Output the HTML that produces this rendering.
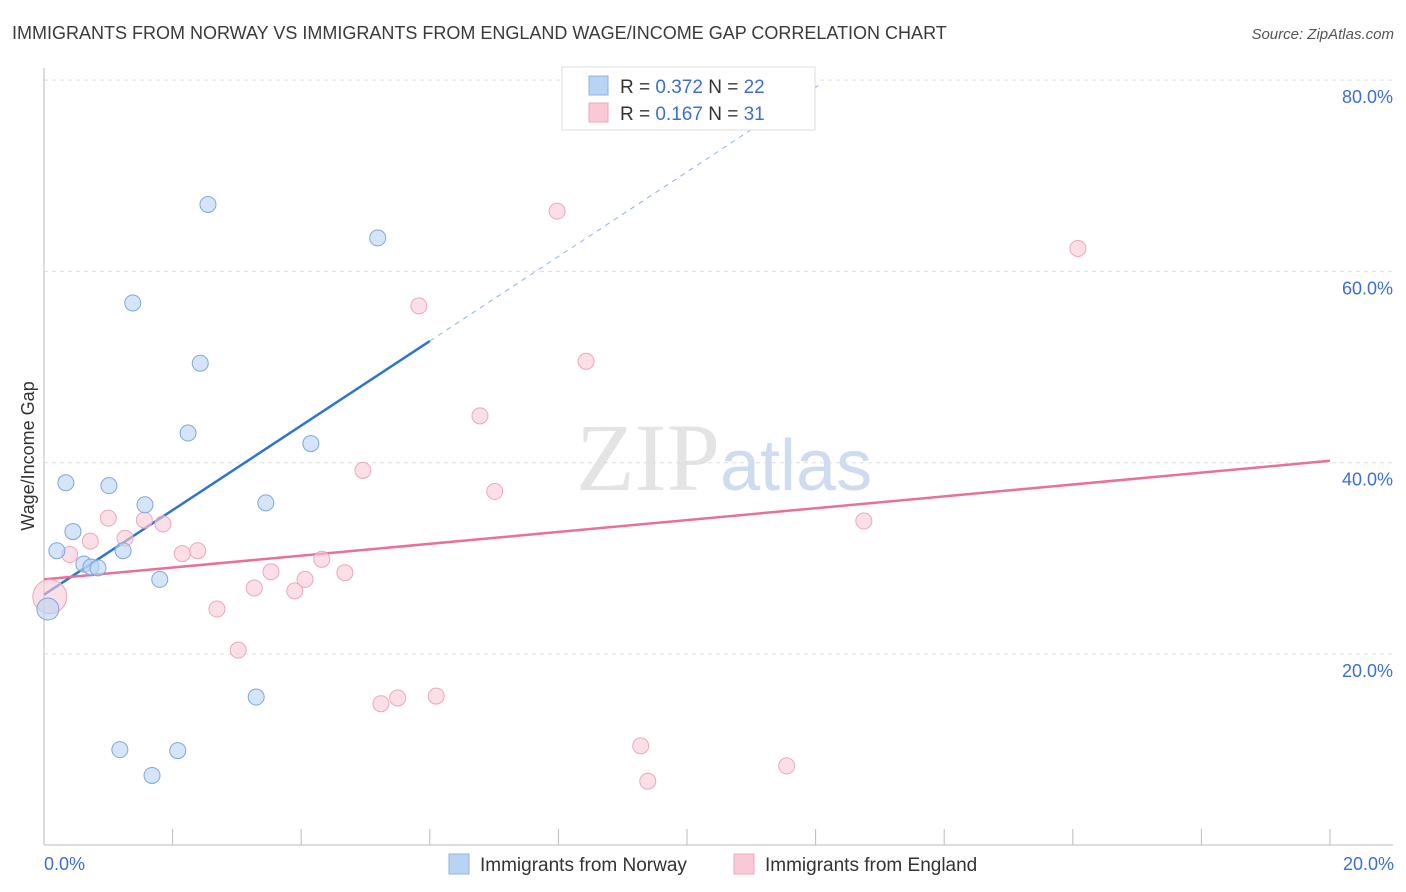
<!DOCTYPE html>
<html><head><meta charset="utf-8"><style>
body{margin:0;background:#fff;font-family:"Liberation Sans",sans-serif;}
svg{display:block}
</style></head><body>
<svg width="1406" height="892" id="chart">
<text x="12" y="39" font-size="18" fill="#3a3a3a">IMMIGRANTS FROM NORWAY VS IMMIGRANTS FROM ENGLAND WAGE/INCOME GAP CORRELATION CHART</text>
<text x="1394" y="39" font-size="15" fill="#555" font-style="italic" text-anchor="end">Source: ZipAtlas.com</text>
<text x="720" y="490" font-size="96" fill="#e4e4e4" font-family="Liberation Serif,serif" text-anchor="end">ZIP</text>
<text x="720" y="490" font-size="72" fill="#cfdcf0" text-anchor="start">atlas</text>
<g id="grid"></g><g id="axes"></g><g id="trends"></g><g id="pts"></g>
<text transform="translate(34,456) rotate(-90)" font-size="18" fill="#333" text-anchor="middle">Wage/Income Gap</text>
<text x="44" y="870" font-size="18" fill="#3b6fd4">0.0%</text>
<text x="1394" y="870" font-size="18" fill="#3b6fd4" text-anchor="end">20.0%</text>
<g>
<rect x="562" y="67" width="253" height="63" fill="#fff" stroke="#ddd"/>
<rect x="589" y="76" width="19" height="19" fill="#b9d3f3" stroke="#8fb3e3"/>
<rect x="589" y="103" width="19" height="19" fill="#f9c9d7" stroke="#eea6bb"/>
<text x="620" y="93" font-size="19" fill="#333">R = <tspan fill="#3b6fd4">0.372</tspan>   N = <tspan fill="#3b6fd4">22</tspan></text>
<text x="620" y="120" font-size="19" fill="#333">R =  <tspan fill="#3b6fd4">0.167</tspan>   N =  <tspan fill="#3b6fd4">31</tspan></text>
</g>
<g>
<rect x="449" y="854" width="20" height="20" fill="#b9d3f3" stroke="#8fb3e3"/>
<text x="480" y="871" font-size="19" fill="#333">Immigrants from Norway</text>
<rect x="734" y="854" width="20" height="20" fill="#f9c9d7" stroke="#eea6bb"/>
<text x="765" y="871" font-size="19" fill="#333">Immigrants from England</text>
</g>
</svg>
<script>
const yTicks=[20,40,60,80];
const xTickCount=10;
const norwayX=[0.06,0.20,0.34,0.45,0.62,0.73,0.84,1.01,1.18,1.23,1.38,1.57,1.68,1.80,2.08,2.24,2.43,2.55,3.30,3.45,4.15,5.19];
const norwayY=[24.7,30.8,37.9,32.8,29.4,29.1,29.0,37.6,10.0,30.8,56.7,35.6,7.3,27.8,9.9,43.1,50.4,67.0,15.5,35.8,42.0,63.5];
const englandX=[0.09,0.40,0.72,1.00,1.26,1.56,1.85,2.15,2.39,2.69,3.02,3.27,3.53,3.90,4.06,4.32,4.68,4.96,5.24,5.50,5.83,6.10,6.78,7.01,7.98,8.43,9.28,9.39,11.55,12.75,16.08];
const englandY=[26.0,30.4,31.8,34.2,32.1,34.0,33.6,30.5,30.8,24.7,20.4,26.9,28.6,26.6,27.8,29.9,28.5,39.2,14.8,15.4,56.4,15.6,44.9,37.0,66.3,50.6,10.4,6.7,8.3,33.9,62.4];
const norwayTrend=[26.2,4.42];
const englandTrend=[27.8,0.62];
const NS='http://www.w3.org/2000/svg';
const sx=v=>44+v/20*1286;
const sy=v=>845.3-v*9.565;
function mk(tag,attrs,parent){const e=document.createElementNS(NS,tag);for(const k in attrs)e.setAttribute(k,attrs[k]);document.getElementById(parent).appendChild(e);return e;}
yTicks.forEach(t=>{
 const l=mk('line',{x1:44,x2:1393,y1:sy(t),y2:sy(t),stroke:'#ddd','stroke-dasharray':'4,4'},'grid');
 
 
 const tx=mk('text',{x:1393,y:sy(t)+23,'font-size':18,fill:'#3b6fd4','text-anchor':'end'},'grid');
 tx.textContent=t.toFixed(1)+'%';
 
 
});
const ax=mk('line',{x1:44,x2:44,y1:68,y2:845,stroke:'#bbb'},'axes');


const bx=mk('line',{x1:44,x2:1393,y1:845,y2:845,stroke:'#bbb'},'axes');


for(let i=0;i<=xTickCount;i++){const v=i*20/xTickCount;
 const t=mk('line',{x1:sx(v),x2:sx(v),y1:829,y2:845,stroke:'#bbb'},'axes');
 
 }
function trend(tr,x0,x1,col,dash,name){
 const l=mk('line',{x1:sx(x0),y1:sy(tr[0]+tr[1]*x0),x2:sx(x1),y2:sy(tr[0]+tr[1]*x1),stroke:col,'stroke-width':dash?1:2.5},'trends');
 if(dash)l.setAttribute('stroke-dasharray','5,5');
 
 
}
trend(norwayTrend,0,6.0,'#2f74d0',false,'norway-trend-line');
trend(norwayTrend,6.0,12.1,'#8fb3e3',true,'norway-trend-extension');
trend(englandTrend,0,20,'#e8709a',false,'england-trend-line');
function pts(xs,ys,fill,stroke,name){
 xs.forEach((x,i)=>{const r=i===0?(name==='england-point'?17:11):8;
  const c=mk('circle',{cx:sx(x),cy:sy(ys[i]),r:r,fill:fill,stroke:stroke,'fill-opacity':0.6},'pts');
  
  });
}
pts(englandX,englandY,'#f9c9d7','#eea6bb','england-point');
pts(norwayX,norwayY,'#b9d3f3','#7fa6dc','norway-point');
</script>
</body></html>
